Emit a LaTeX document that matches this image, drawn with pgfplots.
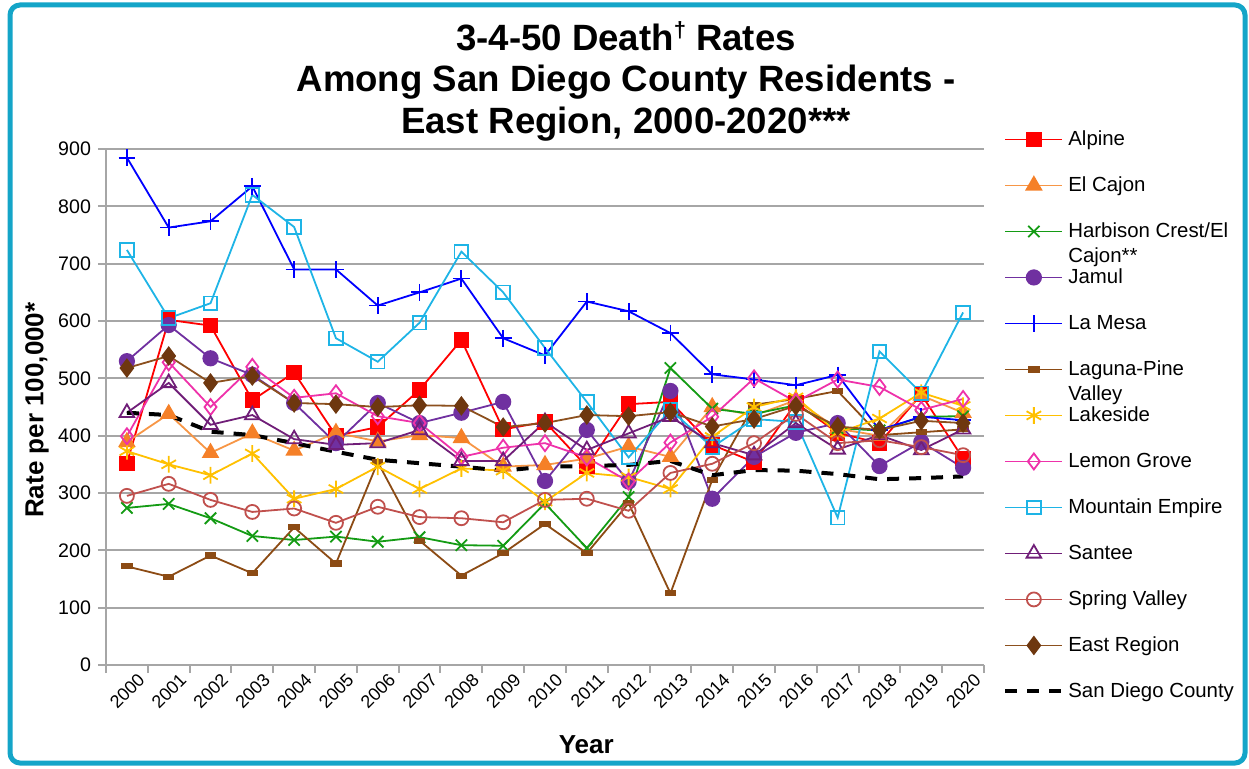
\documentclass[border=0pt]{standalone}
\usepackage{fontspec}
\setmainfont{Liberation Sans}
\usepackage{pgfplots}
\pgfplotsset{compat=1.18}
\usepackage{pgfplotstable}

\definecolor{cAlpine}{RGB}{255,0,0}
\definecolor{cElCajon}{RGB}{245,128,40}
\definecolor{cElCajonL}{RGB}{247,150,70}
\definecolor{cHarbison}{RGB}{20,155,20}
\definecolor{cJamul}{RGB}{112,48,160}
\definecolor{cLaMesa}{RGB}{0,0,255}
\definecolor{cLaguna}{RGB}{140,75,20}
\definecolor{cLakeside}{RGB}{255,192,0}
\definecolor{cLemon}{RGB}{238,50,170}
\definecolor{cMountain}{RGB}{30,180,230}
\definecolor{cSantee}{RGB}{112,30,120}
\definecolor{cSpring}{RGB}{192,80,77}
\definecolor{cEast}{RGB}{110,55,15}
\definecolor{cEastL}{RGB}{140,80,30}
\definecolor{cFrame}{RGB}{20,165,200}
\definecolor{cGrid}{RGB}{166,166,166}

\pgfplotstableread{
x Alpine ElCajon Harbison Jamul LaMesa Laguna Lakeside LemonGrove Mountain Santee Spring East SDC
0  352 389 274 530 885 172 373 399 724 440 295 518 440
1  602 438 281 593 763 154 350 528 605 492 316 539 436
2  592 370 256 535 774 191 331 450 631 419 288 492 407
3  462 404 225 506 835 160 369 520 820 436 267 504 401
4  510 374 218 457 690 240 290 466 764 394 273 457 387
5  400 405 224 387 690 177 307 474 570 384 248 455 372
6  415 390 215 457 627 354 346 434 529 387 276 450 358
7  480 401 223 422 650 217 307 422 597 410 258 453 352
8  567 396 209 440 674 156 343 363 721 356 256 452 346
9  411 346 208 459 570 195 339 379 650 356 249 415 339
10 424 349 282 321 540 246 285 387 553 424 288 422 346
11 346 360 204 410 634 195 335 362 459 375 290 436 347
12 455 381 293 320 617 282 328 320 362 404 269 434 349
13 459 363 518 478 579 125 307 388 445 433 335 441 356
14 384 450 447 290 507 323 398 433 380 387 351 416 331
15 354 435 438 363 498 454 450 500 429 366 387 429 340
16 457 462 453 405 488 464 467 459 424 422 438 452 339
17 405 412 413 422 506 478 405 498 257 376 387 416 333
18 387 400 409 347 410 401 430 485 547 401 392 410 324
19 472 470 433 389 433 406 475 445 474 375 380 426 326
20 360 440 434 344 427 411 452 464 615 411 366 422 329
}\datatable

\begin{document}
\begin{tikzpicture}
\useasboundingbox (0pt,0pt) rectangle (624.5pt,384pt);
\draw[cFrame, line width=2.5pt, rounded corners=5pt] (5pt,2.5pt) rectangle (622.5pt,381.5pt);
\node[anchor=base, font=\fontsize{18.3}{22}\selectfont\bfseries] at (313pt,359pt) {3-4-50 Death{\fontsize{11}{11}\selectfont\raisebox{6.5pt}{†}} Rates};
\node[anchor=base, font=\fontsize{18.3}{22}\selectfont\bfseries] at (313pt,338.25pt) {Among San Diego County Residents -};
\node[anchor=base, font=\fontsize{18.3}{22}\selectfont\bfseries] at (313pt,317.5pt) {East Region, 2000-2020***};
\begin{axis}[
  at={(53pt,51.5pt)}, anchor=south west,
  scale only axis, width=439pt, height=258pt,
  xmin=-0.5, xmax=20.5, ymin=0, ymax=900,
  xtick={0,...,20},
  xticklabels={2000,2001,2002,2003,2004,2005,2006,2007,2008,2009,2010,2011,2012,2013,2014,2015,2016,2017,2018,2019,2020},
  minor xtick={-0.5,0.5,...,20.5},
  major x tick style={draw=none},
  ytick={0,100,...,900},
  ymajorgrids,
  grid style={cGrid, line width=1pt},
  axis x line*=bottom, axis y line*=left,
  axis line style={-, cGrid, line width=1pt},
  tick style={cGrid, line width=1pt},
  minor x tick style={cGrid, line width=1pt},
  tick align=outside,
  major tick length=4pt, minor tick length=4pt,
  /pgf/number format/assume math mode=true,
  tick label style={font=\fontsize{9.8}{11}\selectfont},
  xticklabel style={font=\fontsize{9}{10}\selectfont, rotate=45, anchor=north east, inner sep=0pt, xshift=4pt, yshift=-3pt},
  xlabel={Year},
  xlabel style={font=\fontsize{13}{15}\selectfont\bfseries, at={(axis description cs:0.547,-0.155)}, anchor=center},
  ylabel={Rate per 100,000*},
  ylabel style={font=\fontsize{13}{15}\selectfont\bfseries, at={(axis description cs:-0.0786,0.494)}, anchor=center},
  legend cell align=left,
  legend style={at={(1.0216,1.0407)}, anchor=north west, draw=none, fill=none, inner sep=0pt,
    font=\fontsize{10.2}{12}\selectfont, row sep=12.0pt,
    nodes={inner sep=1pt, text height=7.3pt, text depth=1.7pt},
    /tikz/every odd column/.append style={column sep=1pt}},
  legend image code/.code={\draw[mark repeat=2,mark phase=2] plot coordinates {(0pt,0pt) (14.25pt,0pt) (28.5pt,0pt)};},
  every axis plot/.append style={line width=0.9pt},
]
\addplot[cAlpine, mark=square*, mark size=3.4pt, mark options={solid, fill=cAlpine}] table[x=x, y=Alpine] {\datatable};
\addlegendentry{Alpine}
\addplot[cElCajonL, mark=triangle*, mark size=4.2pt, mark options={solid, draw=cElCajon, fill=cElCajon}] table[x=x, y=ElCajon] {\datatable};
\addlegendentry{El Cajon}
\addplot[cHarbison, mark=x, mark size=4pt, mark options={solid}] table[x=x, y=Harbison] {\datatable};
\addlegendentry{\begin{tabular}[t]{@{}l@{}}Harbison Crest/El\\[0.8pt]Cajon**\end{tabular}}
\addplot[cJamul, mark=*, mark size=3.6pt, mark options={solid, fill=cJamul}] table[x=x, y=Jamul] {\datatable};
\addlegendentry{Jamul}
\addplot[cLaMesa, mark=+, mark size=4.2pt, mark options={solid}] table[x=x, y=LaMesa] {\datatable};
\addlegendentry{La Mesa}
\addplot[cLaguna, mark=square*, mark size=2.4pt, mark options={solid, fill=cLaguna, yscale=0.45}] table[x=x, y=Laguna] {\datatable};
\addlegendentry{\begin{tabular}[t]{@{}l@{}}Laguna-Pine\\[0.8pt]Valley\end{tabular}}
\addplot[cLakeside, mark=asterisk, mark size=4.2pt, mark options={solid}] table[x=x, y=Lakeside] {\datatable};
\addlegendentry{Lakeside}
\addplot[cLemon, mark=diamond, mark size=4pt, mark options={solid}] table[x=x, y=LemonGrove] {\datatable};
\addlegendentry{Lemon Grove}
\addplot[cMountain, mark=square, mark size=3.4pt, mark options={solid}] table[x=x, y=Mountain] {\datatable};
\addlegendentry{Mountain Empire}
\addplot[cSantee, mark=triangle, mark size=4.2pt, mark options={solid}] table[x=x, y=Santee] {\datatable};
\addlegendentry{Santee}
\addplot[cSpring, mark=o, mark size=3.5pt, mark options={solid}] table[x=x, y=Spring] {\datatable};
\addlegendentry{Spring Valley}
\addplot[cEastL, mark=diamond*, mark size=4.2pt, mark options={solid, draw=cEast, fill=cEast}] table[x=x, y=East] {\datatable};
\addlegendentry{East Region}
\addplot[black, line width=2pt, dash pattern=on 6pt off 5pt, no marks] table[x=x, y=SDC] {\datatable};
\addlegendentry{San Diego County}
\end{axis}
\end{tikzpicture}
\end{document}
